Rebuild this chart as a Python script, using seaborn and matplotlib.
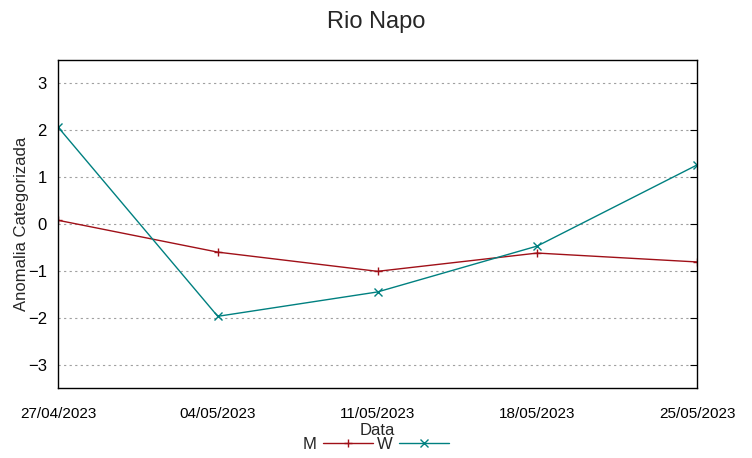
import pandas as pd
import numpy as np
import matplotlib
matplotlib.use("Agg")
import matplotlib.pyplot as plt
import matplotlib.dates as mdates
import seaborn as sns

dates = ["2023-04-27", "2023-05-04", "2023-05-11", "2023-05-18", "2023-05-25"]
m_vals = [0.08, -0.60, -1.01, -0.62, -0.81]
w_vals = [2.07, -1.97, -1.45, -0.47, 1.26]
series_names = ["M", "W"]
colors = {"M": "#a01018", "W": "#008080"}
markers = {"M": "+", "W": "x"}

data = {
    "M": pd.DataFrame({"Data": pd.to_datetime(dates), "valor": m_vals}),
    "W": pd.DataFrame({"Data": pd.to_datetime(dates), "valor": w_vals}),
}

sns.set_style("white")
plt.rcParams['font.family'] = ['Liberation Sans', 'DejaVu Sans']

fig = plt.figure(figsize=(7.52, 4.58), dpi=100)
ax = fig.add_axes([0.0771, 0.1528, 0.8498, 0.7162])

for s in series_names:
    sns.lineplot(data=data[s], x="Data", y="valor", color=colors[s],
                 marker=markers[s], markersize=6, markeredgewidth=1,
                 markeredgecolor=colors[s], linewidth=1, ax=ax, label=s)
ax.get_legend().remove()

ax.set_ylim(-3.5, 3.5)
ax.set_yticks([-3, -2, -1, 0, 1, 2, 3])
ax.set_xlim(pd.Timestamp(dates[0]), pd.Timestamp(dates[-1]))
ax.set_xticks(pd.to_datetime(dates))
ax.xaxis.set_major_formatter(mdates.DateFormatter("%d/%m/%Y"))
ax.yaxis.grid(True, linestyle=(0, (2, 3)), color="#a0a0a0", linewidth=0.8)
ax.xaxis.grid(False)
for sp in ax.spines.values():
    sp.set_color("black")
    sp.set_linewidth(1)
ax.tick_params(axis="both", direction="in", length=5, top=False, right=True,
               colors="black")
ax.tick_params(axis="x", pad=14, labelsize=11)
ax.tick_params(axis="y", pad=8, labelsize=12)
ax.set_xlabel("Data", fontsize=12, labelpad=1)
ax.set_ylabel("Anomalia Categorizada", fontsize=12, labelpad=-1)
fig.suptitle("Rio Napo", fontsize=17, y=0.975)

handles = [plt.Line2D([], [], color=colors[s], marker=markers[s], markersize=6,
                      markeredgecolor=colors[s], linewidth=1)
           for s in series_names]
fig.legend(handles, series_names, loc="lower center", bbox_to_anchor=(0.5, -0.02), ncol=2,
           frameon=False, markerfirst=False, fontsize=12, handlelength=3,
           columnspacing=0.2, handletextpad=0.4)

fig.savefig("out.png", dpi=100)
